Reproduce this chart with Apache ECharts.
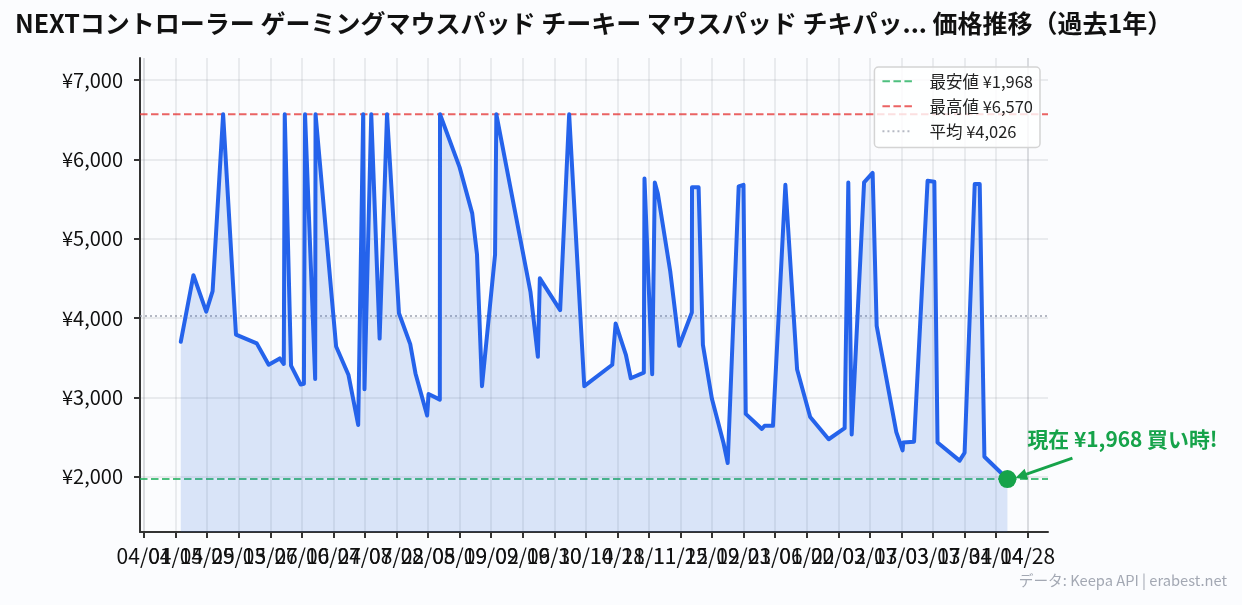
<!DOCTYPE html>
<html lang="ja">
<head>
<meta charset="UTF-8">
<title>価格推移</title>
<script src="https://cdn.jsdelivr.net/npm/echarts@6/dist/echarts.min.js"></script>
<style>html,body{margin:0;padding:0;background:#fbfcfe}</style>
</head>
<body>
<div id="main" style="width:1242px;height:605px"></div>
<script>
// values
var dates = ['2025-04-17 07:00','2025-04-22 22:00','2025-04-28 14:00','2025-05-01 10:00','2025-05-06 02:00','2025-05-11 19:00','2025-05-21 00:00','2025-05-26 07:00','2025-05-31 05:00','2025-06-02 00:00',
  '2025-06-02 10:00','2025-06-05 05:00','2025-06-09 12:00','2025-06-10 22:00','2025-06-11 10:00','2025-06-15 22:00','2025-06-16 02:00','2025-06-25 05:00','2025-06-30 17:00','2025-07-05 00:00',
  '2025-07-07 05:00','2025-07-07 19:00','2025-07-10 19:00','2025-07-14 12:00','2025-07-17 19:00','2025-07-23 02:00','2025-07-28 02:00','2025-07-30 10:00','2025-08-04 14:00','2025-08-05 05:00',
  '2025-08-10 05:00','2025-08-10 07:00','2025-08-19 00:00','2025-08-24 14:00','2025-08-26 17:00','2025-08-28 22:00','2025-09-03 17:00','2025-09-04 07:00','2025-09-19 10:00','2025-09-22 17:00',
  '2025-09-23 14:00','2025-10-02 14:00','2025-10-06 14:00','2025-10-13 07:00','2025-10-25 17:00','2025-10-27 05:00','2025-10-31 19:00','2025-11-02 22:00','2025-11-08 17:00','2025-11-09 00:00',
  '2025-11-12 10:00','2025-11-13 14:00','2025-11-14 22:00','2025-11-20 10:00','2025-11-24 10:00','2025-11-30 00:00','2025-11-30 02:00','2025-12-03 00:00','2025-12-04 22:00','2025-12-08 22:00',
  '2025-12-14 02:00','2025-12-15 22:00','2025-12-20 19:00','2025-12-22 22:00','2025-12-23 22:00','2025-12-31 02:00','2026-01-01 07:00','2026-01-05 00:00','2026-01-10 12:00','2026-01-15 17:00',
  '2026-01-21 12:00','2026-01-29 17:00','2026-02-05 19:00','2026-02-07 10:00','2026-02-08 22:00','2026-02-14 10:00','2026-02-18 05:00','2026-02-20 00:00','2026-02-28 17:00','2026-03-03 12:00',
  '2026-03-03 19:00','2026-03-08 14:00','2026-03-14 14:00','2026-03-17 14:00','2026-03-19 00:00','2026-03-28 19:00','2026-03-31 00:00','2026-04-04 12:00','2026-04-06 17:00','2026-04-08 19:00',
  '2026-04-19 00:00'];
var prices = [3700,4540,4080,4340,6570,3790,3680,3410,3490,3420,
  6570,3400,3160,3170,6570,3230,6570,3640,3280,2650,
  6570,3100,6570,3740,6570,4060,3670,3300,2770,3040,
  2970,6570,5900,5320,4800,3140,4800,6570,4330,3510,
  4500,4100,6570,3140,3410,3930,3530,3240,3310,5760,
  3290,5710,5570,4590,3650,4070,5650,5650,3660,2980,
  2420,2170,5660,5680,2790,2600,2640,2640,5680,3350,
  2750,2470,2610,5710,2530,5710,5830,3900,2560,2330,
  2430,2440,5730,5720,2430,2200,2300,5690,5690,2250,
  1968];
var xTicks = ['2025-04-01','2025-04-15','2025-04-29','2025-05-13','2025-05-27','2025-06-10','2025-06-24','2025-07-08','2025-07-22','2025-08-05',
  '2025-08-19','2025-09-02','2025-09-16','2025-09-30','2025-10-14','2025-10-28','2025-11-11','2025-11-25','2025-12-09','2025-12-23',
  '2026-01-06','2026-01-20','2026-02-03','2026-02-17','2026-03-03','2026-03-17','2026-03-31','2026-04-14','2026-04-28'];
var yTicks = [2000,3000,4000,5000,6000,7000];
var xRange = ['2025-03-30 05:00','2026-05-07 00:00'];
var minPrice = 1968, maxPrice = 6570, avgPrice = 4026;

var font = '"Noto Sans CJK JP","Noto Sans",sans-serif';
var yen = function (v) { return '¥' + v.toLocaleString('en-US'); };
var pairs = dates.map(function (d, i) { return [d, prices[i]]; });
var lastPoint = pairs[pairs.length - 1];
var xTickTimes = xTicks.map(function (d) { return +new Date(d + ' 00:00'); });

function refLine(name, value, color, type) {
  return {
    name: name, type: 'line', symbol: 'none', silent: true, z: 3,
    data: [[xRange[0], value], [xRange[1], value]],
    lineStyle: { color: color, width: 2, type: type },
    itemStyle: { color: color }
  };
}

var myChart = echarts.init(document.getElementById('main'));
myChart.setOption({
  animation: false,
  backgroundColor: '#fbfcfe',
  textStyle: { fontFamily: font },
  title: [
    { text: 'NEXTコントローラー ゲーミングマウスパッド チーキー マウスパッド チキパッ... 価格推移（過去1年）',
      left: 15, top: 11, padding: 0,
      textStyle: { fontFamily: font, fontSize: 25, fontWeight: 'bold', color: '#111' } },
    { text: 'データ: Keepa API | erabest.net', right: 15, top: 573, padding: 0,
      textStyle: { fontFamily: font, fontSize: 14.7, fontWeight: 'normal', color: '#a3a8b3' } }
  ],
  grid: { left: 140, right: 194, top: 58, bottom: 73 },
  legend: {
    data: ['最安値 ¥1,968', '最高値 ¥6,570', '平均 ¥4,026'],
    orient: 'vertical', right: 202, top: 67, itemGap: 8.5, itemWidth: 30, itemHeight: 16,
    padding: [6, 7, 8, 7], backgroundColor: 'rgba(255,255,255,0.8)',
    borderColor: '#d4d4d4', borderWidth: 1.5, borderRadius: 4,
    itemStyle: { opacity: 0 },
    textStyle: { fontFamily: font, fontSize: 16.5, color: '#222', padding: [0, 0, 0, 12] }
  },
  xAxis: {
    type: 'time', min: xRange[0], max: xRange[1],
    axisLine: { lineStyle: { color: '#333', width: 2 } },
    axisTick: { customValues: xTickTimes, length: 6, lineStyle: { color: '#333', width: 2 } },
    axisLabel: {
      customValues: xTickTimes,
      formatter: '{MM}/{dd}', hideOverlap: false, fontFamily: font, fontSize: 21, color: '#111', margin: 14
    },
    splitLine: { show: true, lineStyle: { color: 'rgba(120,130,140,0.18)', width: 1.5 } }
  },
  yAxis: {
    type: 'value', min: 1300, max: 7280,
    axisLine: { show: true, lineStyle: { color: '#333', width: 2 } },
    axisTick: { show: true, customValues: yTicks, length: 6, lineStyle: { color: '#333', width: 2 } },
    axisLabel: { customValues: yTicks, formatter: yen, fontFamily: font, fontSize: 20, color: '#111', margin: 17 },
    splitLine: { show: true, lineStyle: { color: 'rgba(120,130,140,0.18)', width: 1.5 } }
  },
  series: [
    refLine('最安値 ¥1,968', minPrice, 'rgba(34,176,94,0.8)', [7.5, 3.5]),
    refLine('最高値 ¥6,570', maxPrice, 'rgba(230,60,60,0.8)', [7.5, 3.5]),
    refLine('平均 ¥4,026', avgPrice, 'rgba(150,155,170,0.7)', [2, 3]),
    {
      name: '価格', type: 'line', symbol: 'none', data: pairs, z: 5,
      lineStyle: { color: '#2563eb', width: 4, join: 'round', cap: 'round' },
      areaStyle: { color: '#2a6ad8', opacity: 0.16, origin: 'start' }
    },
    {
      name: '現在', type: 'scatter', data: [lastPoint], symbolSize: 18, z: 7,
      itemStyle: { color: '#16a34a', opacity: 1 }, clip: false
    }
  ]
});

// callout placed relative to the last point
var p = myChart.convertToPixel({ xAxisIndex: 0, yAxisIndex: 0 }, lastPoint);
var tip = [p[0] + 8, p[1] - 1], tail = [p[0] + 65, p[1] - 21];
var ang = Math.atan2(tail[1] - tip[1], tail[0] - tip[0]);
var head = function (a, r) { return [tip[0] + Math.cos(ang + a) * r, tip[1] + Math.sin(ang + a) * r]; };
myChart.setOption({
  graphic: [
    { type: 'line', z: 8, shape: { x1: tail[0], y1: tail[1], x2: tip[0] + 4, y2: tip[1] - 1.4 }, style: { stroke: '#16a34a', lineWidth: 3 } },
    { type: 'polygon', z: 8, shape: { points: [tip, head(0.45, 13), head(-0.45, 13)] }, style: { fill: '#16a34a' } },
    { type: 'text', z: 8, x: p[0] + 20, y: p[1] - 50, style: { text: '現在 ¥1,968 買い時!', fill: '#16a34a', font: 'bold 20.9px ' + font } }
  ]
});
</script>
</body>
</html>
